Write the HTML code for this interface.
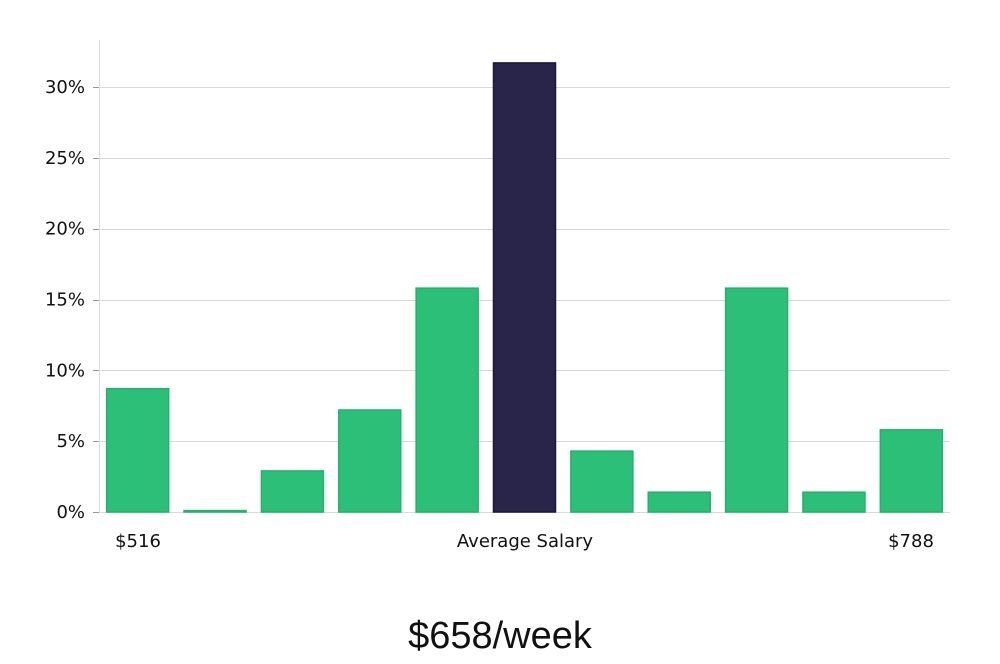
<!DOCTYPE html>
<html><head><meta charset="utf-8"><style>
body{margin:0;background:#fff;width:1000px;height:660px;overflow:hidden;font-family:"DejaVu Sans","Liberation Sans",sans-serif;}
</style></head><body>
<svg id="chart" width="1000" height="660" xmlns="http://www.w3.org/2000/svg">
<g id="grid"></g><g id="bars"></g><g id="ticks"></g>
<line x1="99.5" y1="40" x2="99.5" y2="512" stroke="#ddd"/>
<text x="138" y="547" font-size="18" text-anchor="middle" fill="#111">$516</text>
<text x="525" y="547" font-size="18" text-anchor="middle" fill="#111">Average Salary</text>
<text x="911" y="547" font-size="18" text-anchor="middle" fill="#111">$788</text>
<text x="500" y="648" font-size="38" text-anchor="middle" fill="#111" font-family="Liberation Sans, sans-serif">$658/week</text>
</svg>
<script>
const categories=["b1","b2","b3","b4","b5","b6","b7","b8","b9","b10","b11"];
const values=[8.7,0.1,2.9,7.2,15.8,31.7,4.3,1.4,15.8,1.4,5.8];
const highlightIndex=5;
const tickValues=[0,5,10,15,20,25,30];
const tickLabels=["0%","5%","10%","15%","20%","25%","30%"];
const NS="http://www.w3.org/2000/svg";
const x0=99,x1=950,yBase=512,pxPer=85/6*1; // 70.83px per 5%
function y(v){return yBase-v*(425/30);}
const step=(x1-x0)/categories.length;
function xc(i){return x0+step*(i+0.5);}
const grid=document.getElementById('grid'),ticks=document.getElementById('ticks'),bars=document.getElementById('bars');
tickValues.forEach((t,i)=>{
 const l=document.createElementNS(NS,'line');
 
 
 l.setAttribute('x1',x0);l.setAttribute('x2',x1);l.setAttribute('y1',Math.round(y(t))+0.5);l.setAttribute('y2',Math.round(y(t))+0.5);
 l.setAttribute('stroke','#d9d9d9');grid.appendChild(l);
 const m=document.createElementNS(NS,'line');
 
 
 m.setAttribute('x1',x0-6);m.setAttribute('x2',x0);m.setAttribute('y1',Math.round(y(t))+0.5);m.setAttribute('y2',Math.round(y(t))+0.5);
 m.setAttribute('stroke','#999');ticks.appendChild(m);
 const tx=document.createElementNS(NS,'text');
 
 
 tx.setAttribute('x',x0-14);tx.setAttribute('y',y(t)+6);tx.setAttribute('font-size','18');tx.setAttribute('text-anchor','end');tx.setAttribute('fill','#111');
 tx.textContent=tickLabels[i];ticks.appendChild(tx);
});
const bw=62;
values.forEach((v,i)=>{
 const r=document.createElementNS(NS,'rect');
 
 
 const top=y(v);
 r.setAttribute('x',xc(i)-bw/2);r.setAttribute('y',top);r.setAttribute('width',bw);r.setAttribute('height',Math.max(1,yBase-top));
 const hi=i===highlightIndex;
 r.setAttribute('fill',hi?'#28244a':'#2bbf78');r.setAttribute('stroke',hi?'#1a1640':'#22b36c');r.setAttribute('stroke-width','1.5');
 bars.appendChild(r);
});
</script>
</body></html>
